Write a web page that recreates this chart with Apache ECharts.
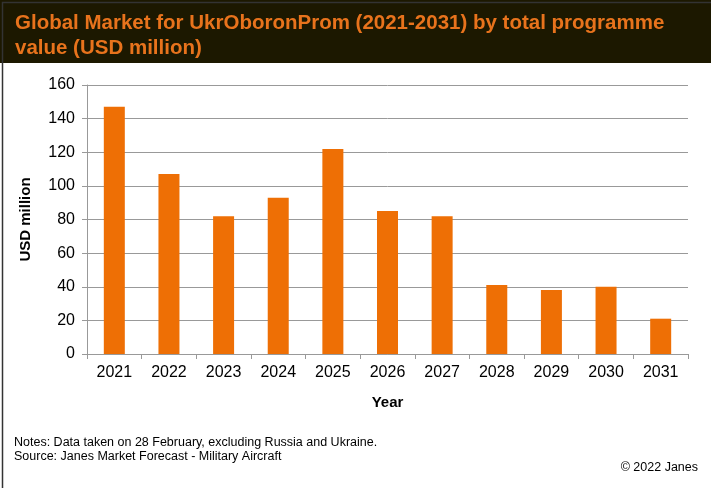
<!DOCTYPE html>
<html>
<head>
<meta charset="utf-8">
<script src="https://cdn.jsdelivr.net/npm/echarts@6/dist/echarts.min.js"></script>
<style>
  html, body { margin: 0; padding: 0; background: #fff; }
  #chart { width: 711px; height: 488px; }
</style>
</head>
<body>
<div id="chart"></div>
<script>
var years = ['2021', '2022', '2023', '2024', '2025', '2026', '2027', '2028', '2029', '2030', '2031'];
var values = [147, 107, 82, 93, 122, 85, 82, 41, 38, 40, 21];
var yTicks = [0, 20, 40, 60, 80, 100, 120, 140, 160];

var chart = echarts.init(document.getElementById('chart'));
var option = {
  animation: false,
  backgroundColor: '#fff',
  graphic: [
    { type: 'rect', left: 0, top: 0, shape: { width: 711, height: 63 }, style: { fill: '#1c1800' } },
    { type: 'rect', left: 0, top: 0, shape: { width: 710, height: 487 },
      style: { fill: 'none', stroke: '#333', lineWidth: 1.5 }, z: 100 },
    { type: 'text', left: 14, top: 436,
      style: { text: 'Notes: Data taken on 28 February, excluding Russia and Ukraine.\nSource: Janes Market Forecast - Military Aircraft',
        font: '12.5px "Liberation Sans", Arial', fill: '#000', lineHeight: 14 } },
    { type: 'text', right: 13, top: 461,
      style: { text: '\u00a9 2022 Janes', font: '12.5px "Liberation Sans", Arial', fill: '#000' } }
  ],
  title: {
    text: 'Global Market for UkrOboronProm (2021-2031) by total programme\nvalue (USD million)',
    left: 10, top: 6,
    textStyle: { color: '#e8731c', fontSize: 20.5, fontWeight: 'bold',
      fontFamily: '"Liberation Sans", Arial', lineHeight: 25 }
  },
  grid: { left: 87, right: 23, top: 85, bottom: 134 },
  xAxis: {
    type: 'category',
    data: years,
    name: 'Year',
    nameLocation: 'middle',
    nameGap: 41,
    nameTextStyle: { fontSize: 15, fontWeight: 'bold', color: '#000', fontFamily: 'Liberation Sans, Arial' },
    axisLine: { lineStyle: { color: '#999' } },
    axisTick: { show: true, length: 5, lineStyle: { color: '#999' } },
    axisLabel: { color: '#000', fontSize: 16, margin: 11, fontFamily: 'Liberation Sans, Arial' }
  },
  yAxis: {
    type: 'value',
    min: 0, max: 160, interval: 20,
    name: 'USD million',
    nameLocation: 'middle',
    nameGap: 54,
    nameTextStyle: { fontSize: 15, fontWeight: 'bold', color: '#000', fontFamily: 'Liberation Sans, Arial' },
    axisLine: { show: true, lineStyle: { color: '#999' } },
    axisTick: { show: true, length: 5, lineStyle: { color: '#999' } },
    axisLabel: { color: '#000', fontSize: 16, margin: 12, fontFamily: 'Liberation Sans, Arial',
      formatter: function (v) { return yTicks.indexOf(v) >= 0 ? v : ''; } },
    splitLine: { lineStyle: { color: '#999' } }
  },
  series: [{
    type: 'bar',
    data: values,
    barWidth: 21,
    itemStyle: { color: '#ee6f05' }
  }]
};
chart.setOption(option);
window.onresize = function () { chart.resize(); };
</script>
</body>
</html>
